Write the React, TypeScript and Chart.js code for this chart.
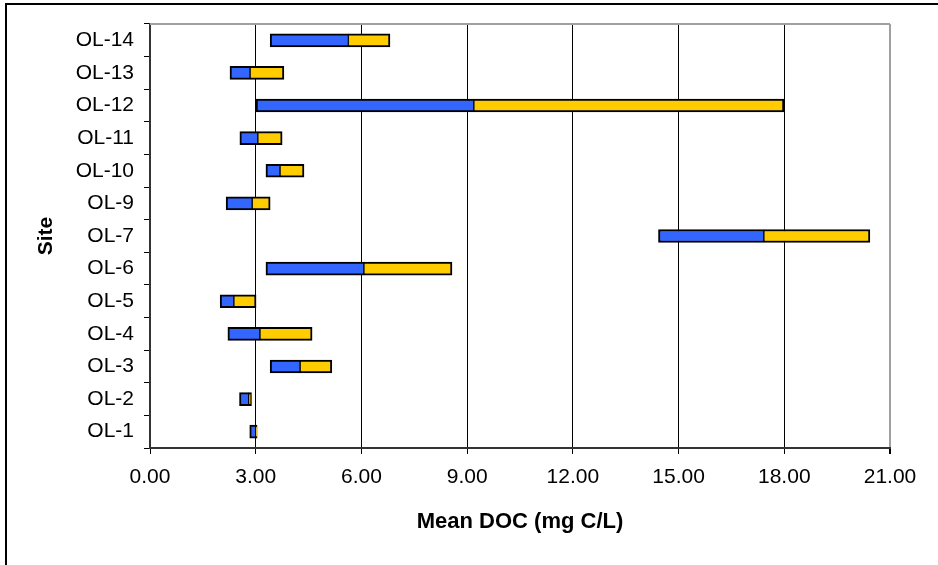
import React, { useEffect, useRef } from "react";
import { Chart, registerables } from "chart.js";

Chart.register(...registerables);

const sites = ["OL-1", "OL-2", "OL-3", "OL-4", "OL-5", "OL-6", "OL-7", "OL-9", "OL-10", "OL-11", "OL-12", "OL-13", "OL-14"];
const minDOC = [2.83, 2.54, 3.41, 2.21, 1.99, 3.29, 14.43, 2.16, 3.29, 2.55, 3.01, 2.27, 3.41];
const meanDOC = [3.0, 2.8, 4.26, 3.12, 2.38, 6.07, 17.42, 2.9, 3.69, 3.06, 9.19, 2.84, 5.63];
const maxDOC = [3.04, 2.88, 5.16, 4.6, 3.01, 8.57, 20.43, 3.41, 4.37, 3.75, 17.99, 3.8, 6.81];
const xMin = 0;
const xMax = 21;
const xStep = 3;

const FONT = "'Liberation Sans', Arial, sans-serif";

export default function App() {
  const ref = useRef<HTMLCanvasElement | null>(null);

  useEffect(() => {
    if (!ref.current) return;
    const framePlugin = {
      id: "frame",
      beforeDraw(chart: any) {
        const ctx = chart.ctx;
        ctx.save();
        ctx.fillStyle = "#fff";
        ctx.fillRect(0, 0, chart.width, chart.height);
        ctx.strokeStyle = "#000";
        ctx.lineWidth = 2;
        ctx.beginPath();
        ctx.moveTo(6, chart.height);
        ctx.lineTo(6, 4);
        ctx.lineTo(chart.width, 4);
        ctx.stroke();
        ctx.restore();
      },
      beforeDatasetsDraw(chart: any) {
        const { ctx, chartArea } = chart;
        ctx.save();
        ctx.strokeStyle = "#a0a0a0";
        ctx.lineWidth = 2;
        ctx.beginPath();
        ctx.moveTo(chartArea.left, chartArea.top);
        ctx.lineTo(chartArea.right, chartArea.top);
        ctx.stroke();
        ctx.restore();
      },
    };

    const chart = new Chart(ref.current, {
      type: "bar",
      data: {
        labels: sites,
        datasets: [
          {
            label: "Min to Mean",
            data: sites.map((_, i) => [minDOC[i], meanDOC[i]]) as any,
            backgroundColor: "#3366FF",
            borderColor: "#000",
            borderWidth: { top: 2, bottom: 2, left: 2, right: 1 } as any,
            borderSkipped: false,
            barThickness: 13,
          },
          {
            label: "Mean to Max",
            data: sites.map((_, i) => [meanDOC[i], maxDOC[i]]) as any,
            backgroundColor: "#FFCC00",
            borderColor: "#000",
            borderWidth: { top: 2, bottom: 2, left: 1, right: 2 } as any,
            borderSkipped: false,
            barThickness: 13,
          },
        ],
      },
      options: {
        indexAxis: "y",
        responsive: false,
        animation: false,
        layout: { padding: { top: 24, right: 48, left: 0, bottom: 0 } },
        plugins: {
          legend: { display: false },
          tooltip: { enabled: false },
        },
        scales: {
          y: {
            type: "category",
            reverse: true,
            stacked: true,
            grid: { drawOnChartArea: false, color: "#000", tickLength: 6, offset: true },
            border: { color: "#333", width: 2 },
            ticks: { font: { family: FONT, size: 21 }, color: "#000", padding: 10 },
            title: {
              display: true,
              text: "Site",
              color: "#000",
              font: { family: FONT, size: 21, weight: "bold" },
              padding: { top: 34, bottom: 0 },
            },
            afterFit: (s: any) => {
              s.width = 150;
            },
          } as any,
          x: {
            type: "linear",
            min: xMin,
            max: xMax,
            stacked: false,
            grid: {
              color: (c: any) => (c.tick && c.tick.value === xMax ? "#a0a0a0" : "#000"),
              lineWidth: (c: any) => (c.tick && c.tick.value === xMax ? 2 : 1),
              tickColor: "#000",
              tickLength: 6,
            },
            border: { color: "#333", width: 2 },
            ticks: {
              stepSize: xStep,
              font: { family: FONT, size: 21 },
              color: "#000",
              padding: 11,
              callback: (v: any) => Number(v).toFixed(2),
            },
            title: {
              display: true,
              text: "Mean DOC (mg C/L)",
              color: "#000",
              font: { family: FONT, size: 22, weight: "bold" },
              padding: { top: 0, bottom: 30 },
            },
            afterFit: (s: any) => {
              s.height = 117;
            },
          } as any,
        },
      },
      plugins: [framePlugin],
    });
    return () => chart.destroy();
  }, []);

  return (
    <div style={{ position: "fixed", left: 0, top: 0, width: 938, height: 565, background: "#fff" }}>
      <canvas ref={ref} width={938} height={565} style={{ display: "block" }} />
    </div>
  );
}
